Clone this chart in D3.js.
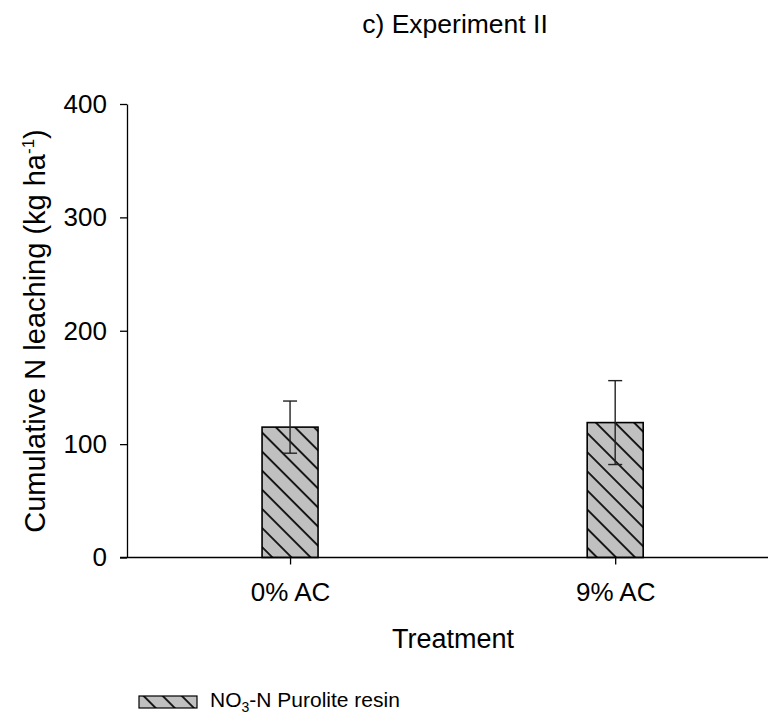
<!DOCTYPE html>
<html>
<head>
<meta charset="utf-8">
<script src="https://cdn.jsdelivr.net/npm/d3@7/dist/d3.min.js"></script>
<style>
  html, body { margin: 0; padding: 0; background: #fff; }
  svg { display: block; font-family: Arial, "Liberation Sans", sans-serif; }
</style>
</head>
<body>
<svg id="chart" width="768" height="715"></svg>
<script>
// Cumulative NO3-N leaching measured with Purolite resin, Experiment II
const categories = ["0% AC", "9% AC"];
const means = [115, 119];
const errors = [23, 37];
const yTicks = [0, 100, 200, 300, 400];

const FONT = "Arial, 'Liberation Sans', sans-serif";
const svg = d3.select("#chart");

const x = d3.scaleLinear().domain([-0.5015, 1.47]).range([127, 768]);
const y = d3.scaleLinear().domain([0, 400]).range([557.5, 104]);
const barW = 56;

// diagonal hatch for the bars and legend swatch
const defs = svg.append("defs");
const sp = 13.5;
const pat = defs.append("pattern")
  .attr("id", "hatch")
  .attr("patternUnits", "userSpaceOnUse")
  .attr("width", sp).attr("height", sp)
  .attr("patternTransform", "rotate(-45)");
pat.append("rect").attr("width", sp).attr("height", sp).attr("fill", "#c0c0c0");
pat.append("line").attr("x1", 1).attr("y1", 0).attr("x2", 1).attr("y2", sp)
  .attr("stroke", "#000").attr("stroke-width", 1.7);

// y axis
const yAxis = d3.axisLeft(y).tickValues(yTicks).tickSize(7).tickPadding(13).tickSizeOuter(0);
const gy = svg.append("g").attr("transform", "translate(127,0)").call(yAxis);
gy.select(".domain").attr("stroke", "#000").attr("stroke-width", 1.3);
gy.selectAll(".tick line").attr("stroke", "#000").attr("stroke-width", 1.3);
gy.selectAll(".tick text").attr("font-size", 26).attr("fill", "#000")
  .attr("font-family", FONT);

// bars
svg.selectAll("rect.bar").data(means).enter().append("rect")
  .attr("class", "bar")
  .attr("x", (d, i) => x(i) - barW / 2)
  .attr("y", d => y(d))
  .attr("width", barW)
  .attr("height", d => y(0) - y(d))
  .attr("fill", "url(#hatch)")
  .attr("stroke", "#000")
  .attr("stroke-width", 1.6);

// error bars
const eg = svg.append("g").attr("stroke", "#222").attr("stroke-width", 1.4);
means.forEach((m, i) => {
  const cx = x(i);
  eg.append("line").attr("x1", cx).attr("x2", cx)
    .attr("y1", y(m + errors[i])).attr("y2", y(m - errors[i]));
  [m + errors[i], m - errors[i]].forEach(v => {
    eg.append("line").attr("x1", cx - 7).attr("x2", cx + 7)
      .attr("y1", y(v)).attr("y2", y(v));
  });
});

// x axis
const xAxis = d3.axisBottom(x).tickValues([0, 1]).tickFormat(i => categories[i])
  .tickSize(7).tickPadding(18).tickSizeOuter(0);
const gx = svg.append("g").attr("transform", `translate(0,${y(0)})`).call(xAxis);
gx.select(".domain").attr("stroke", "#000").attr("stroke-width", 1.6)
  .attr("d", "M120,0H768");
gx.selectAll(".tick line").attr("stroke", "#000").attr("stroke-width", 1.3);
gx.selectAll(".tick text").attr("font-size", 26).attr("fill", "#000")
  .attr("font-family", FONT);

// title
svg.append("text").attr("x", 455).attr("y", 33).attr("text-anchor", "middle")
  .attr("font-size", 26.5).text("c) Experiment II");

// axis titles
svg.append("text").attr("x", 453).attr("y", 648).attr("text-anchor", "middle")
  .attr("font-size", 27).text("Treatment");

const yt = svg.append("text")
  .attr("transform", "translate(45,331) rotate(-90)")
  .attr("text-anchor", "middle").attr("font-size", 29);
yt.append("tspan").text("Cumulative N leaching (kg ha");
yt.append("tspan").attr("dy", -11).attr("font-size", 17).text("-1");
yt.append("tspan").attr("dy", 11).text(")");

// legend
svg.append("rect").attr("x", 139).attr("y", 696).attr("width", 58).attr("height", 12)
  .attr("fill", "url(#hatch)").attr("stroke", "#000").attr("stroke-width", 1.2);
const lt = svg.append("text").attr("x", 210).attr("y", 707).attr("font-size", 21);
lt.append("tspan").text("NO");
lt.append("tspan").attr("dy", 5).attr("font-size", 14).text("3");
lt.append("tspan").attr("dy", -5).text("-N Purolite resin");
</script>
</body>
</html>
